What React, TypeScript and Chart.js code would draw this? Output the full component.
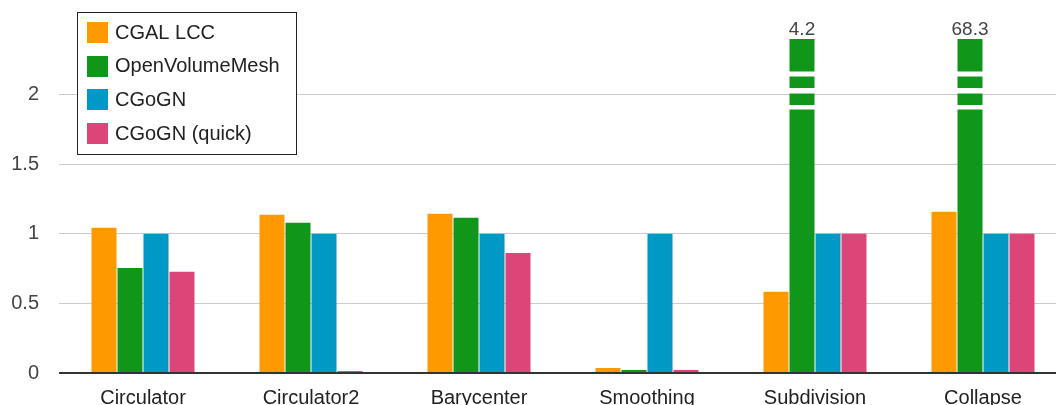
import React, { useEffect, useRef } from 'react';
import { Chart, registerables } from 'chart.js';

Chart.register(...registerables);

const categories = ['Circulator', 'Circulator2', 'Barycenter', 'Smoothing', 'Subdivision', 'Collapse'];
const seriesNames = ['CGAL LCC', 'OpenVolumeMesh', 'CGoGN', 'CGoGN (quick)'];
const seriesColors = ['#ff9900', '#109618', '#0099c6', '#dd4477'];
const cgalLcc = [1.043, 1.137, 1.144, 0.036, 0.583, 1.158];
const openVolumeMesh = [0.755, 1.079, 1.115, 0.022, 4.2, 68.3];
const cgogn = [1, 1, 1, 1, 1, 1];
const cgognQuick = [0.727, 0.014, 0.863, 0.022, 1, 1];
const yTicks = [0, 0.5, 1, 1.5, 2];
const yMax = 2.4;

const FONT = "'Liberation Sans', Arial, sans-serif";

// white "break" stripes drawn over bars whose value exceeds the axis max (offsets from plot top)
const breakStripes: [number, number][] = [
  [32.5, 37.5],
  [49, 54.5],
  [66, 70.5],
];

const overflowPlugin = {
  id: 'overflowBars',
  afterDatasetsDraw(chart: any) {
    const { ctx, chartArea } = chart;
    const y = chart.scales.y;
    const y0 = Math.round(y.getPixelForValue(0));
    ctx.save();
    ctx.fillStyle = '#333333';
    ctx.fillRect(chartArea.left, y0 - 1, chartArea.right - chartArea.left, 2);
    chart.data.datasets.forEach((ds: any, di: number) => {
      const meta = chart.getDatasetMeta(di);
      ds.data.forEach((v: number, i: number) => {
        if (v > y.max) {
          const bar = meta.data[i];
          const { x, width } = bar.getProps(['x', 'width'], true);
          const top = chartArea.top;
          ctx.fillStyle = '#ffffff';
          for (const [a, b] of breakStripes) {
            ctx.fillRect(x - width / 2 - 0.5, top + a, width + 1, b - a);
          }
          ctx.fillStyle = '#444444';
          ctx.font = `19px ${FONT}`;
          ctx.textAlign = 'center';
          ctx.textBaseline = 'alphabetic';
          ctx.fillText(String(v), x, top - 4);
        }
      });
    });
    ctx.restore();
  },
};

const boxLegendPlugin = {
  id: 'boxLegend',
  afterDraw(chart: any) {
    const { ctx } = chart;
    ctx.save();
    ctx.fillStyle = '#ffffff';
    ctx.fillRect(77.5, 12.5, 219, 142);
    ctx.strokeStyle = '#222222';
    ctx.lineWidth = 1;
    ctx.strokeRect(77.5, 12.5, 219, 142);
    ctx.font = `20px ${FONT}`;
    ctx.textBaseline = 'middle';
    ctx.textAlign = 'left';
    chart.data.datasets.forEach((ds: any, i: number) => {
      const cy = 32.5 + i * 33.67;
      ctx.fillStyle = ds.backgroundColor;
      ctx.fillRect(87, Math.round(cy - 10.5), 21, 21);
      ctx.fillStyle = '#222222';
      ctx.fillText(ds.label, 115, cy + 0.5);
    });
    ctx.restore();
  },
};

export default function App() {
  const ref = useRef<HTMLCanvasElement | null>(null);

  useEffect(() => {
    if (!ref.current) return;
    const seriesData = [cgalLcc, openVolumeMesh, cgogn, cgognQuick];
    const chart = new Chart(ref.current, {
      type: 'bar',
      data: {
        labels: categories,
        datasets: seriesNames.map((name, i) => ({
          label: name,
          data: seriesData[i],
          backgroundColor: seriesColors[i],
          borderWidth: 0,
          categoryPercentage: 104 / 168,
          barPercentage: 25 / 26,
        })),
      },
      options: {
        responsive: false,
        animation: false,
        devicePixelRatio: 1,
        layout: { padding: { top: 39, left: 0, right: 0, bottom: 0 } },
        plugins: {
          legend: { display: false },
          tooltip: { enabled: false },
        },
        scales: {
          x: {
            grid: { display: false, drawTicks: false },
            border: { display: false },
            ticks: {
              color: '#222222',
              font: { size: 20, family: FONT },
              padding: 13,
              maxRotation: 0,
              autoSkip: false,
            },
            afterFit: (s: any) => {
              s.height = 32;
            },
          },
          y: {
            min: 0,
            max: yMax,
            grid: {
              drawTicks: false,
              color: (c: any) => (c.tick && c.tick.value === 0 ? 'rgba(0,0,0,0)' : '#cccccc'),
              lineWidth: 1,
            },
            border: { display: false },
            ticks: {
              color: '#444444',
              font: { size: 20, family: FONT },
              padding: 20,
              callback: (v: any) => String(v),
            },
            afterBuildTicks: (s: any) => {
              s.ticks = yTicks.map((v) => ({ value: v }));
            },
            afterFit: (s: any) => {
              s.width = 59;
            },
          },
        },
      } as any,
      plugins: [overflowPlugin, boxLegendPlugin],
    });
    return () => chart.destroy();
  }, []);

  return (
    <div
      style={{
        position: 'fixed',
        left: 0,
        top: 0,
        width: 1056,
        height: 405,
        overflow: 'hidden',
        background: '#ffffff',
      }}
    >
      <canvas ref={ref} width={1067} height={405} style={{ display: 'block' }} />
    </div>
  );
}
